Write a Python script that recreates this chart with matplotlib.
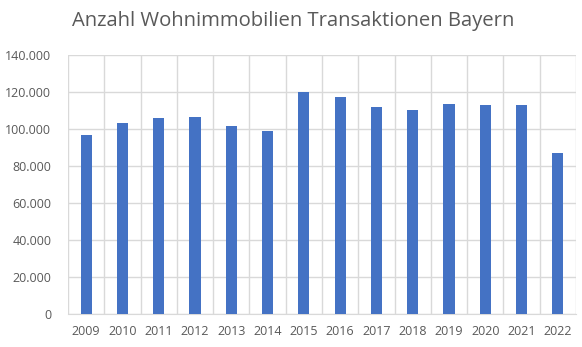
import matplotlib.pyplot as plt
import numpy as np
from matplotlib.ticker import FuncFormatter, MultipleLocator

plt.rcParams['font.family'] = ['Open Sans', 'DejaVu Sans']

# Anzahl der Transaktionen je Jahr
years = ['2009', '2010', '2011', '2012', '2013', '2014', '2015',
         '2016', '2017', '2018', '2019', '2020', '2021', '2022']
transactions = [96500, 102900, 105600, 106100, 101200, 98500, 119700,
                117000, 111500, 110000, 113100, 112600, 112600, 87100]

text_color = '#595959'
grid_color = '#d9d9d9'
bar_color = '#4472c4'

fig = plt.figure(figsize=(5.82, 3.47), dpi=100)
ax = fig.add_axes([68 / 582, 1 - 314 / 347, 508 / 582, (314 - 54.5) / 347])

x = np.arange(len(years))
ax.bar(x, transactions, width=0.31, color=bar_color, zorder=3)

ax.set_xlim(-0.5, len(years) - 0.5)
ax.set_ylim(0, 140000)
ax.yaxis.set_major_locator(MultipleLocator(20000))
ax.yaxis.set_major_formatter(FuncFormatter(lambda v, p: f'{int(v):,}'.replace(',', '.')))

ax.set_xticks(x)
ax.set_xticklabels(years)
# vertikale Trennlinien zwischen den Kategorien
ax.set_xticks(np.arange(-0.5, len(years)), minor=True)
ax.grid(True, axis='y', color=grid_color, linewidth=1, zorder=0)
ax.grid(True, axis='x', which='minor', color=grid_color, linewidth=1, zorder=0)
ax.grid(False, axis='x', which='major')

for side in ['top', 'right', 'left']:
    ax.spines[side].set_visible(False)
ax.spines['bottom'].set_color(grid_color)
ax.tick_params(axis='both', which='both', length=0, colors=text_color, labelsize=9)
ax.tick_params(axis='x', pad=8)
ax.tick_params(axis='y', pad=12)

fig.text(72 / 582, 1 - 21 / 347, 'Anzahl Wohnimmobilien Transaktionen Bayern',
         ha='left', va='center', fontsize=14.6, color=text_color)

fig.savefig('out.png', dpi=100)
